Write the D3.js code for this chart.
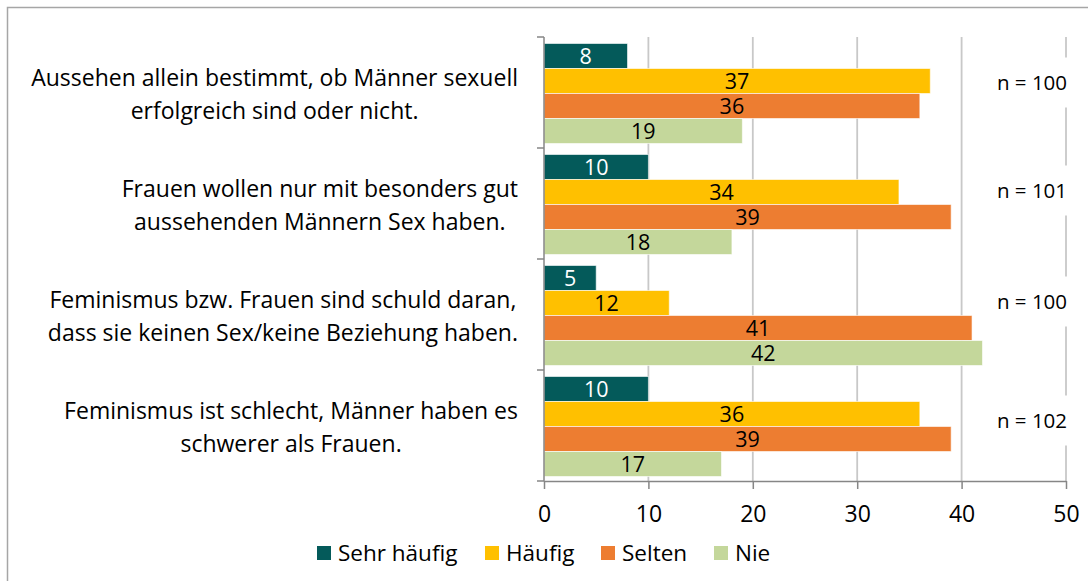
<!DOCTYPE html>
<html>
<head>
<meta charset="utf-8">
<script src="https://cdn.jsdelivr.net/npm/d3@7"></script>
<style>
  body { margin: 0; background: #fff; }
  svg { display: block; font-family: "Open Sans", sans-serif; }
</style>
</head>
<body>
<div id="chart"></div>
<script>
// data
var categories = [
  ["Aussehen allein bestimmt, ob Männer sexuell", "erfolgreich sind oder nicht."],
  ["Frauen wollen nur mit besonders gut", "aussehenden Männern Sex haben."],
  ["Feminismus bzw. Frauen sind schuld daran,", "dass sie keinen Sex/keine Beziehung haben."],
  ["Feminismus ist schlecht, Männer haben es", "schwerer als Frauen."]
];
var seriesNames = ["Sehr häufig", "Häufig", "Selten", "Nie"];
var sehrHaeufig = [8, 10, 5, 10];
var haeufig = [37, 34, 12, 36];
var selten = [36, 39, 41, 39];
var nie = [19, 18, 42, 17];
var nValues = ["n = 100", "n = 101", "n = 100", "n = 102"];
var xTicks = [0, 10, 20, 30, 40, 50];

var colors = ["#045a5a", "#ffc000", "#ed7d31", "#c4d79b"];
var labelColors = ["#fff", "#000", "#000", "#000"];

var W = 1088, H = 581;
var margin = {top: 37, left: 544, right: 22, bottom: 100};
var width = W - margin.left - margin.right,
    height = H - margin.top - margin.bottom;

var svg = d3.select("#chart").append("svg")
  .attr("width", W)
  .attr("height", H);

// outer frame
svg.append("rect")
  .attr("x", 7.5).attr("y", 7.5)
  .attr("width", W + 20).attr("height", H + 20)
  .attr("fill", "#fff")
  .attr("stroke", "#a6a6a6")
  .attr("stroke-width", 1.5);

var g = svg.append("g")
  .attr("transform", "translate(" + margin.left + "," + margin.top + ")");

var x = d3.scaleLinear().domain([0, 50]).range([0, width]);

var catIdx = d3.range(categories.length);
var y0 = d3.scaleBand().domain(catIdx).range([0, height]);
var y1 = d3.scaleBand().domain(d3.range(seriesNames.length))
  .range([6.5, y0.bandwidth() - 4.5]);

var rows = catIdx.map(function(i) {
  return [sehrHaeufig[i], haeufig[i], selten[i], nie[i]];
});

// gridlines
g.append("g")
  .selectAll("line")
  .data(xTicks.slice(1))
  .enter().append("line")
  .attr("x1", function(d) { return x(d); })
  .attr("x2", function(d) { return x(d); })
  .attr("y1", 0)
  .attr("y2", height)
  .attr("stroke", "#c8c8c8")
  .attr("stroke-width", 1.8);

// bars
var groups = g.append("g")
  .selectAll("g")
  .data(rows)
  .enter().append("g")
  .attr("transform", function(d, i) { return "translate(0," + y0(i) + ")"; });

var cells = groups.selectAll("g")
  .data(function(d) { return d.map(function(v, k) { return {k: k, v: v}; }); })
  .enter().append("g");

cells.append("rect")
  .attr("x", x(0))
  .attr("y", function(d) { return y1(d.k); })
  .attr("width", function(d) { return x(d.v) - x(0); })
  .attr("height", y1.bandwidth())
  .attr("fill", function(d) { return colors[d.k]; })
  .attr("stroke", "#fff")
  .attr("stroke-opacity", 0.6)
  .attr("stroke-width", 1);

cells.append("text")
  .attr("x", function(d) { return x(d.v / 2); })
  .attr("y", function(d) { return y1(d.k) + y1.bandwidth() / 2; })
  .attr("dy", "0.36em")
  .attr("text-anchor", "middle")
  .attr("font-size", 21.5)
  .attr("fill", function(d) { return labelColors[d.k]; })
  .text(function(d) { return d.v; });

// y axis
g.append("line")
  .attr("x1", 0).attr("x2", 0).attr("y1", 0).attr("y2", height)
  .attr("stroke", "#868686").attr("stroke-width", 1.5);
g.append("g")
  .selectAll("line")
  .data(d3.range(categories.length + 1))
  .enter().append("line")
  .attr("x1", -7).attr("x2", 0)
  .attr("y1", function(d) { return d * y0.step(); })
  .attr("y2", function(d) { return d * y0.step(); })
  .attr("stroke", "#868686").attr("stroke-width", 1.5);

// category labels: wrapped block right edge at 518, lines centred in block
var catLabels = g.append("g")
  .selectAll("text")
  .data(categories)
  .enter().append("text")
  .attr("text-anchor", "middle")
  .attr("font-size", 23)
  .attr("fill", "#000");
catLabels.selectAll("tspan")
  .data(function(d) { return d; })
  .enter().append("tspan")
  .attr("x", 0)
  .attr("y", function(d, j) { return (j - 0.5) * 32.5; })
  .attr("dy", "0.35em")
  .text(function(d) { return d; });
catLabels.attr("transform", function(d, i) {
  var maxW = d3.max(d3.select(this).selectAll("tspan").nodes(), function(n) {
    return n.getComputedTextLength();
  });
  return "translate(" + (518 - margin.left - maxW / 2) + "," + (y0(i) + y0.bandwidth() / 2 + 2) + ")";
});

// x axis
var xAxis = d3.axisBottom(x).tickValues(xTicks).tickSize(8).tickSizeOuter(0).tickPadding(17);
var xg = g.append("g")
  .attr("transform", "translate(0," + height + ")")
  .call(xAxis);
xg.select(".domain").attr("stroke", "#868686").attr("stroke-width", 1.5);
xg.selectAll(".tick line").attr("stroke", "#868686").attr("stroke-width", 1.5);
xg.selectAll(".tick text")
  .attr("font-size", 23)
  .attr("font-family", "'Open Sans', sans-serif")
  .attr("fill", "#000");

// n labels with white boxes
var nOffsets = [-10, -13, -13, -5];
var nBox = g.append("g")
  .selectAll("g")
  .data(nValues)
  .enter().append("g")
  .attr("transform", function(d, i) {
    return "translate(" + (1032 - margin.left) + "," + (y0(i) + y0.bandwidth() / 2 + nOffsets[i]) + ")";
  });
nBox.append("rect")
  .attr("x", -42).attr("y", -25)
  .attr("width", 84).attr("height", 50)
  .attr("fill", "#fff");
nBox.append("text")
  .attr("text-anchor", "middle")
  .attr("dy", "0.35em")
  .attr("font-size", 20.5)
  .attr("fill", "#000")
  .text(function(d) { return d; });

// legend
var legendX = [317, 485, 601, 714];
var legend = svg.append("g")
  .selectAll("g")
  .data(seriesNames)
  .enter().append("g")
  .attr("transform", function(d, i) { return "translate(" + legendX[i] + ",553)"; });
legend.append("rect")
  .attr("x", 0).attr("y", -7)
  .attr("width", 14).attr("height", 14)
  .attr("fill", function(d, i) { return colors[i]; });
legend.append("text")
  .attr("x", 21)
  .attr("dy", "0.35em")
  .attr("font-size", 22.5)
  .attr("fill", "#000")
  .text(function(d) { return d; });
</script>
</body>
</html>
